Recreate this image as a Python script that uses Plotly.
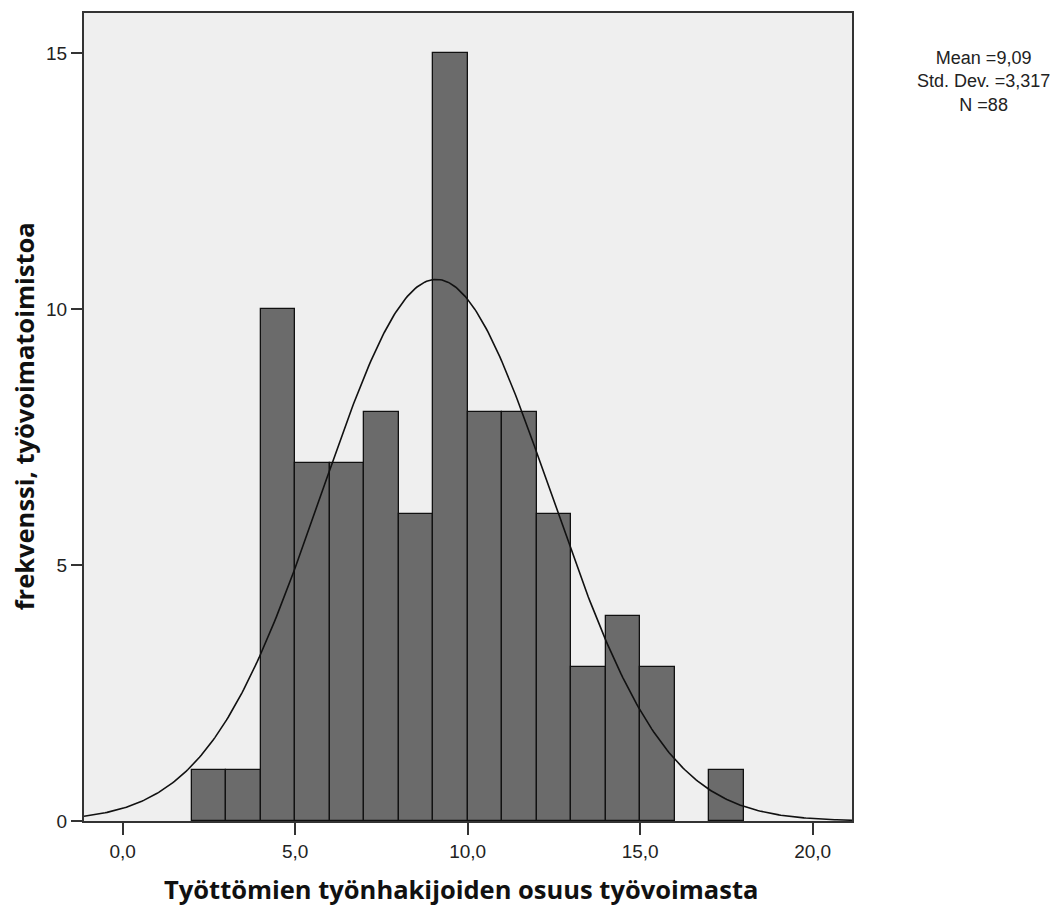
import numpy as np
import plotly.graph_objects as go

bin_left = [2, 3, 4, 5, 6, 7, 8, 9, 10, 11, 12, 13, 14, 15, 16, 17]
counts = [1, 1, 10, 7, 7, 8, 6, 15, 8, 8, 6, 3, 4, 3, 0, 1]
mean_val = 9.09
sd_val = 3.317
n_val = 88
stat_lines = ["Mean =9,09", "Std. Dev. =3,317", "N =88"]
x_tickvals = [0, 5, 10, 15, 20]
x_ticktext = ["0,0", "5,0", "10,0", "15,0", "20,0"]
y_tickvals = [0, 5, 10, 15]
y_ticktext = ["0", "5", "10", "15"]
x_title = "Työttömien työnhakijoiden osuus työvoimasta"
y_title = "frekvenssi, työvoimatoimistoa"

x_range = [-1.12, 21.14]
y_range = [0, 15.79]

centers = [b + 0.5 for b in bin_left]
bar_heights = [c if c > 0 else None for c in counts]
xs = np.linspace(x_range[0], x_range[1], 400)
ys = n_val * 1.0 / (sd_val * np.sqrt(2 * np.pi)) * np.exp(-0.5 * ((xs - mean_val) / sd_val) ** 2)

fig = go.Figure()
fig.add_trace(go.Bar(
    x=centers, y=bar_heights, width=1,
    marker=dict(color="#6b6b6b", line=dict(color="#111111", width=1.3)),
    hoverinfo="skip",
))
fig.add_trace(go.Scatter(
    x=xs, y=ys, mode="lines",
    line=dict(color="#111111", width=1.6),
    hoverinfo="skip",
))

title_font = dict(family="Open Sans, DejaVu Sans", size=25.5, color="#111111")
tick_font = dict(family="Liberation Sans, Arial", size=19, color="#222222")

annotations = [
    dict(xref="paper", yref="paper", x=0.491, y=-0.084,
         xanchor="center", yanchor="middle", showarrow=False,
         text="<b>" + x_title + "</b>", font=title_font),
    dict(xref="paper", yref="paper", x=-0.078, y=0.501,
         xanchor="center", yanchor="middle", showarrow=False, textangle=-90,
         text="<b>" + y_title + "</b>", font=title_font),
    dict(xref="paper", yref="paper", x=1.1706, y=0.915,
         xanchor="center", yanchor="middle", align="center", showarrow=False,
         text="<br>".join(stat_lines),
         font=dict(family="Liberation Sans, Arial", size=18, color="#222222")),
]

fig.update_layout(
    width=1055, height=899,
    margin=dict(l=76, r=211, t=3, b=86),
    paper_bgcolor="white",
    plot_bgcolor="#efefef",
    showlegend=False,
    bargap=0,
    font=dict(family="Liberation Sans, Arial", size=16, color="#222222"),
    xaxis=dict(
        range=x_range, tickvals=x_tickvals, ticktext=x_ticktext,
        showgrid=False, zeroline=False,
        showline=True, linecolor="#333333", linewidth=2, mirror=True,
        ticks="outside", ticklen=12, tickwidth=2, tickcolor="#333333",
        tickfont=tick_font,
    ),
    yaxis=dict(
        range=y_range, tickvals=y_tickvals, ticktext=y_ticktext,
        showgrid=False, zeroline=False,
        showline=True, linecolor="#333333", linewidth=2, mirror=True,
        ticks="outside", ticklen=11, tickwidth=2, tickcolor="#333333",
        tickfont=tick_font,
    ),
    annotations=annotations,
)

fig.write_html("out.html")
